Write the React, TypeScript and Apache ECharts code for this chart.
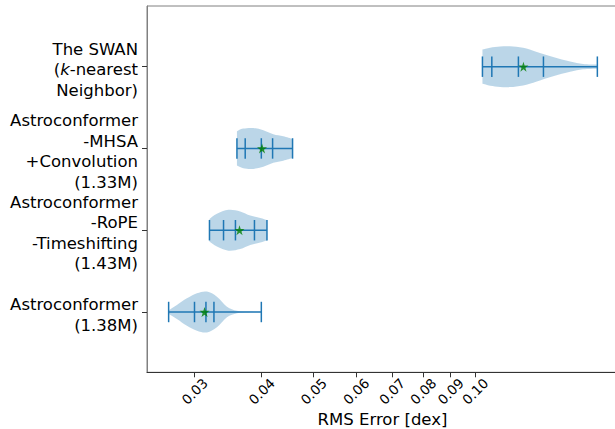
import React, { useEffect, useRef } from "react";
import * as echarts from "echarts";

// Category labels, top to bottom
const categoryLabels: string[][] = [
  ["The SWAN", "(k-nearest", "Neighbor)"],
  ["Astroconformer", "-MHSA", "+Convolution", "(1.33M)"],
  ["Astroconformer", "-RoPE", "-Timeshifting", "(1.43M)"],
  ["Astroconformer", "(1.38M)"],
];

// Violin statistics (RMS error, dex), same order as categories
const violinMin = [0.10318, 0.03598, 0.03198, 0.02684];
const violinQ1 = [0.10742, 0.03728, 0.03397, 0.02999];
const violinMedian = [0.1204, 0.03995, 0.03575, 0.0315];
const violinQ3 = [0.13406, 0.04193, 0.03879, 0.0326];
const violinMax = [0.16895, 0.04568, 0.04093, 0.03995];
const violinMean = [0.12303, 0.04007, 0.03638, 0.03131];

// Density profiles: [value, relative density]
const densitySwan = [
  [0.10318, 0.84], [0.10666, 0.93], [0.11133, 0.99], [0.11621, 1.0], [0.12286, 0.92],
  [0.13032, 0.72], [0.13976, 0.47], [0.15031, 0.25], [0.15891, 0.13], [0.16895, 0.1],
];
const densityMhsa = [
  [0.03598, 0.84], [0.03696, 0.97], [0.0386, 1.0], [0.04029, 0.89], [0.04205, 0.7],
  [0.04389, 0.6], [0.04568, 0.47],
];
const densityRope = [
  [0.03198, 0.55], [0.03302, 0.8], [0.0347, 1.0], [0.03649, 0.92], [0.0381, 0.72],
  [0.03977, 0.6], [0.04093, 0.5],
];
const densityAstro = [
  [0.02684, 0.08], [0.02781, 0.34], [0.02903, 0.67], [0.03031, 0.92], [0.03164, 1.0],
  [0.03302, 0.75], [0.03447, 0.26], [0.03598, 0.06], [0.03777, 0.02], [0.03995, 0.01],
];
const densities = [densitySwan, densityMhsa, densityRope, densityAstro];

// X axis (log scale) ticks
const xTickValues = [0.03, 0.04, 0.05, 0.06, 0.07, 0.08, 0.09, 0.1];
const xTickLabels = ["0.03", "0.04", "0.05", "0.06", "0.07", "0.08", "0.09", "0.10"];
const xAxisMin = 0.02446;
const xAxisMax = 0.1846;
const yAxisMin = 0.2626;
const yAxisMax = 4.742;

const BLUE = "#1f77b4";
const FILL = "rgba(31,119,180,0.3)";
const FONT = "DejaVu Sans";

const lg = (v: number) => Math.log10(v);
const yOf = (i: number) => categoryLabels.length - i;

function curveThrough(pts: number[][]): string {
  let d = "";
  const n = pts.length;
  for (let k = 0; k < n - 1; k++) {
    const p0 = pts[k - 1] || pts[k];
    const p1 = pts[k];
    const p2 = pts[k + 1];
    const p3 = pts[k + 2] || pts[k + 1];
    const c1x = p1[0] + (p2[0] - p0[0]) / 6;
    const c1y = p1[1] + (p2[1] - p0[1]) / 6;
    const c2x = p2[0] - (p3[0] - p1[0]) / 6;
    const c2y = p2[1] - (p3[1] - p1[1]) / 6;
    d += ` C${c1x},${c1y} ${c2x},${c2y} ${p2[0]},${p2[1]}`;
  }
  return d;
}

export default function App() {
  const ref = useRef<HTMLDivElement>(null);
  useEffect(() => {
    if (!ref.current) return;
    const chart = echarts.init(ref.current, undefined, { renderer: "svg", width: 615, height: 429 });
    const halfWidth = 0.25;
    const lineHalf = 0.125;

    const renderItem = (params: any, api: any) => {
      const i = params.dataIndex;
      const y = yOf(i);
      const dens = densities[i];
      const top = dens.map(([v, w]) => api.coord([lg(v), y + w * halfWidth]));
      const bot = dens.map(([v, w]) => api.coord([lg(v), y - w * halfWidth])).reverse();
      const pathData =
        `M${top[0][0]},${top[0][1]}` + curveThrough(top) +
        ` L${bot[0][0]},${bot[0][1]}` + curveThrough(bot) + " Z";
      const children: any[] = [
        { type: "path", shape: { pathData }, style: { fill: FILL, stroke: null } },
      ];
      const c0 = api.coord([lg(violinMin[i]), y]);
      const c1 = api.coord([lg(violinMax[i]), y]);
      children.push({
        type: "line",
        shape: { x1: c0[0], y1: c0[1], x2: c1[0], y2: c1[1] },
        style: { stroke: BLUE, lineWidth: 1.5 },
      });
      [violinMin[i], violinQ1[i], violinMedian[i], violinQ3[i], violinMax[i]].forEach((v) => {
        const a = api.coord([lg(v), y + lineHalf]);
        const b = api.coord([lg(v), y - lineHalf]);
        children.push({
          type: "line",
          shape: { x1: a[0], y1: a[1], x2: b[0], y2: b[1] },
          style: { stroke: BLUE, lineWidth: 1.5 },
        });
      });
      return { type: "group", children };
    };

    const labelFor = (val: number) => {
      const idx = Math.round(categoryLabels.length - val);
      const lines = categoryLabels[idx];
      if (!lines) return "";
      return lines
        .map((l) => (l.startsWith("(k-") ? `{n|(}{i|k}{n|${l.slice(2)}}` : `{n|${l}}`))
        .join("\n");
    };

    chart.setOption({
      animation: false,
      grid: {
        left: 147,
        right: -3,
        top: 6,
        bottom: 56.7,
        outerBoundsMode: "none",
        containLabel: false,
        show: true,
        borderColor: "#808080",
        borderWidth: 1,
        backgroundColor: "transparent",
      },
      xAxis: {
        type: "value",
        min: lg(xAxisMin),
        max: lg(xAxisMax),
        name: "RMS Error [dex]",
        nameLocation: "middle",
        nameGap: 47.5,
        nameMoveOverlap: false,
        nameTextStyle: { fontSize: 16.5, fontFamily: FONT, color: "#000", verticalAlign: "middle" },
        axisLine: { show: true, lineStyle: { color: "#333", width: 1 } },
        axisTick: {
          show: true,
          length: 5,
          customValues: xTickValues.map(lg),
          lineStyle: { color: "#333" },
        },
        axisLabel: {
          customValues: xTickValues.map(lg),
          rotate: 45,
          align: "center",
          verticalAlign: "middle",
          margin: 19,
          fontSize: 13.5,
          fontFamily: FONT,
          color: "#000",
          formatter: (val: number) => {
            const k = xTickValues.findIndex((t) => Math.abs(lg(t) - val) < 1e-6);
            return k >= 0 ? xTickLabels[k] : "";
          },
        },
        splitLine: { show: false },
      },
      yAxis: {
        type: "value",
        min: yAxisMin,
        max: yAxisMax,
        axisLine: { show: true, lineStyle: { color: "#808080", width: 1 } },
        axisTick: {
          show: true,
          length: 5,
          customValues: [1, 2, 3, 4],
          lineStyle: { color: "#333" },
        },
        axisLabel: {
          customValues: [1, 2, 3, 4],
          margin: 9,
          align: "right",
          padding: [6, 0, 0, 0],
          formatter: labelFor,
          rich: {
            n: { fontSize: 16.5, fontFamily: FONT, color: "#000", lineHeight: 20.5, align: "right" },
            i: { fontSize: 16.5, fontFamily: FONT, color: "#000", lineHeight: 20.5, fontStyle: "italic", align: "right" },
          },
        },
        splitLine: { show: false },
      },
      series: [
        {
          type: "custom",
          renderItem,
          encode: { x: 0, y: 1 },
          data: violinMedian.map((m, i) => [lg(m), yOf(i)]),
          z: 2,
        },
        {
          type: "scatter",
          symbol: "path://M50,0 L61.2,34.5 L97.6,34.5 L68.2,55.9 L79.4,90.5 L50,69.1 L20.6,90.5 L31.8,55.9 L2.4,34.5 L38.8,34.5 Z",
          symbolSize: 10,
          itemStyle: { color: "#008000" },
          data: violinMean.map((m, i) => [lg(m), yOf(i)]),
          z: 3,
        },
      ],
    });
    return () => chart.dispose();
  }, []);
  return (
    <div
      ref={ref}
      style={{ position: "absolute", left: 0, top: 0, width: 615, height: 429, background: "#fff" }}
    />
  );
}
